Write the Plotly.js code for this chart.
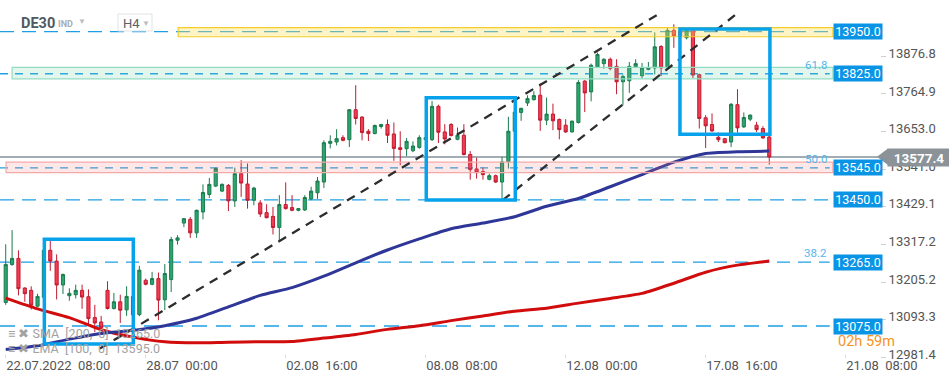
<!DOCTYPE html>
<html><head><meta charset="utf-8">
<script src="https://cdn.plot.ly/plotly-3.0.1.min.js"></script>
<style>html,body{margin:0;padding:0;background:#fff;overflow:hidden}#chart{width:949px;height:381px}</style>
</head><body><div id="chart"></div>
<script>
// ---- OHLC data (H4 candles, DE30) ----
const openP = [13145,13258,13276,13188,13181,13134,13160,13300,13268,13197,13165,13168,13181,13162,13100,13087,13181,13127,13147,13123,13163,13109,13211,13199,13216,13153,13213,13330,13381,13392,13352,13414,13466,13491,13476,13493,13447,13528,13497,13449,13441,13412,13401,13368,13436,13427,13419,13420,13453,13471,13503,13618,13622,13635,13629,13718,13696,13654,13647,13668,13674,13646,13605,13602,13596,13606,13629,13629,13728,13652,13674,13630,13642,13585,13542,13534,13511,13522,13503,13563,13654,13710,13738,13748,13761,13687,13705,13689,13672,13652,13680,13803,13771,13845,13855,13868,13847,13801,13804,13846,13819,13838,13842,13906,13842,13954,13952,13932,13954,13822,13694,13674,13636,13632,13622,13733,13667,13690,13672,13662,13637];
const highP = [13318,13360,13300,13190,13193,13171,13303,13329,13288,13231,13187,13198,13198,13184,13138,13105,13208,13173,13168,13193,13168,13254,13216,13236,13234,13259,13340,13345,13396,13399,13421,13496,13515,13546,13499,13497,13546,13568,13558,13489,13449,13437,13429,13464,13502,13464,13426,13464,13489,13518,13627,13642,13660,13642,13720,13791,13699,13660,13674,13676,13689,13680,13654,13634,13624,13642,13638,13744,13733,13675,13678,13665,13675,13595,13575,13546,13528,13525,13578,13697,13716,13724,13761,13773,13796,13754,13736,13692,13690,13686,13806,13806,13855,13888,13871,13873,13868,13822,13860,13868,13857,13860,13948,13910,13963,13972,13958,13958,13960,13825,13702,13707,13650,13634,13738,13779,13710,13704,13682,13669,13640];
const lowP = [13138,13254,13166,13147,13124,13131,13158,13239,13154,13170,13150,13157,13126,13077,13057,13062,13124,13124,13084,13105,13100,13104,13196,13196,13092,13122,13176,13317,13369,13337,13337,13392,13456,13488,13473,13417,13429,13459,13424,13434,13399,13395,13347,13328,13421,13416,13416,13417,13449,13453,13485,13603,13612,13624,13607,13674,13627,13625,13645,13662,13619,13566,13553,13580,13592,13602,13627,13625,13619,13615,13639,13627,13582,13510,13513,13510,13508,13500,13449,13543,13650,13685,13729,13745,13655,13672,13657,13630,13649,13650,13677,13711,13743,13842,13840,13835,13764,13731,13768,13843,13811,13835,13823,13818,13838,13902,13930,13927,13812,13662,13604,13652,13622,13618,13607,13650,13664,13684,13652,13632,13555];
const closeP = [13258,13276,13186,13171,13137,13163,13300,13268,13197,13228,13172,13181,13161,13097,13084,13070,13127,13147,13122,13163,13108,13241,13199,13216,13152,13231,13332,13337,13394,13352,13419,13472,13496,13543,13496,13447,13528,13500,13449,13485,13408,13397,13368,13436,13424,13419,13424,13457,13476,13506,13620,13624,13632,13627,13718,13692,13650,13647,13671,13674,13642,13603,13600,13624,13610,13635,13635,13728,13651,13631,13641,13642,13585,13540,13531,13525,13522,13503,13563,13654,13711,13722,13751,13760,13687,13705,13685,13659,13652,13684,13799,13768,13850,13882,13868,13841,13801,13817,13847,13855,13842,13842,13905,13842,13954,13937,13938,13954,13821,13692,13670,13655,13629,13620,13734,13664,13695,13702,13659,13634,13577.4];

// ---- Moving averages (read at every 5th candle) ----
const maIdx = [0,5,10,15,20,25,30,35,40,45,50,55,60,65,70,75,80,85,90,95,100,105,110,115,120];
const sma200 = [13158,13126,13100,13064,13042,13028,13025,13027,13028,13029,13039,13050,13065,13076,13091,13105,13119,13128,13143,13157,13172,13202,13235,13256,13268];
const ema100 = [13005,13016,13036,13053,13062,13076,13098,13132,13166,13189,13223,13263,13301,13334,13364,13381,13400,13431,13454,13489,13525,13562,13588,13593,13595];

// ---- Axes ----
const xTickIdx = [0,22,44,66,88,110,132];
const xTickLabels = ['22.07.2022\u00a0 08:00','28.07\u00a0 00:00','02.08\u00a0 16:00','08.08\u00a0 08:00','12.08\u00a0 00:00','17.08\u00a0 16:00','21.08\u00a0 08:00'];
const yTickVals = [13876.8,13764.9,13653.0,13541.0,13429.1,13317.2,13205.2,13093.3,12981.4];

// ---- Drawn levels ----
const levels = [13950,13825,13545,13450,13265,13075];
const levelDash = ['14px,8px','8px,7px','8px,7px','14px,8px','13px,8px','15px,9px'];
const fibLevels = [13825,13545,13265];
const fibLabels = ['61.8','50.0','38.2'];
const currentPrice = 13577.4;

const bandLow = [13935,13810,13531];
const bandHigh = [13962,13844,13562];
const bandStart = [27.1,1.0,0.05];
const bandFill = ['rgba(255,224,90,0.35)','rgba(110,210,170,0.2)','rgba(245,120,120,0.18)'];
const bandLine = ['#f4cd2a','#93dcc2','#f4a9a9'];

const boxX0 = [6.07,66.09,105.96];
const boxX1 = [20.05,80.08,120.1];
const boxY0 = [13021.5,13449.6,13644.9];
const boxY1 = [13332.8,13753.7,13958.0];

const trendX0 = [14.8,78.1];
const trendY0 = [13008,13449];
const trendX1 = [102.3,114.6];
const trendY1 = [13999,13999];

// ---- build ----
const idx = openP.map((_, i) => i);
const PW = 880, PH = 381;
const px2paperX = p => p / PW;
const px2paperY = p => 1 - p / PH;

const traces = [
  {type:'scatter', mode:'lines', x:maIdx, y:sma200, line:{color:'#d10c0c', width:3, shape:'spline', smoothing:0.6}, hoverinfo:'skip', showlegend:false},
  {type:'scatter', mode:'lines', x:maIdx, y:ema100, line:{color:'#2e3697', width:3, shape:'spline', smoothing:0.6}, hoverinfo:'skip', showlegend:false},
  {type:'candlestick', x:idx, open:openP, high:highP, low:lowP, close:closeP,
   increasing:{line:{color:'#1b7a4d', width:1}, fillcolor:'#2aa66f'},
   decreasing:{line:{color:'#c01a30', width:1}, fillcolor:'#f23c52'},
   whiskerwidth:0, hoverinfo:'skip', showlegend:false}
];

const shapes = [];
levels.forEach((lv, k) => {
  shapes.push({type:'line', xref:'x', yref:'y', x0:-0.9, x1:129.5, y0:lv, y1:lv,
    line:{color:'#1e9fe6', width:1.3, dash:levelDash[k]}, layer:'below'});
});
shapes.push({type:'line', xref:'paper', yref:'y', x0:0, x1:1, y0:currentPrice, y1:currentPrice,
  line:{color:'#86919a', width:1.5}, layer:'below'});
bandLow.forEach((lo, k) => {
  shapes.push({type:'rect', xref:'x', yref:'y', x0:bandStart[k], x1:130, y0:lo, y1:bandHigh[k],
    fillcolor:bandFill[k], line:{color:bandLine[k], width:1.2}, layer:'above'});
});
trendX0.forEach((x0, k) => {
  shapes.push({type:'line', xref:'x', yref:'y', x0:x0, y0:trendY0[k], x1:trendX1[k], y1:trendY1[k],
    line:{color:'#2d2d2d', width:2.3, dash:'9px,7px'}, layer:'above'});
});
boxX0.forEach((x0, k) => {
  shapes.push({type:'rect', xref:'x', yref:'y', x0:x0, x1:boxX1[k], y0:boxY0[k], y1:boxY1[k],
    line:{color:'#07a2ec', width:3.5}, fillcolor:'rgba(0,0,0,0)', layer:'above'});
});
// current price tag arrow
shapes.push({type:'path', xref:'paper', yref:'paper',
  path:'M '+px2paperX(877)+' '+px2paperY(156.8)+' L '+px2paperX(888)+' '+px2paperY(148.5)+' L '+px2paperX(888)+' '+px2paperY(165)+' Z',
  fillcolor:'#8b9399', line:{width:0}, layer:'above'});
// H4 selector box
shapes.push({type:'rect', xref:'paper', yref:'paper', x0:px2paperX(118), x1:px2paperX(152), y0:px2paperY(31), y1:px2paperY(14),
  fillcolor:'rgba(255,255,255,0.9)', line:{color:'#dfe2e5', width:1}, layer:'above'});

const annotations = [];
levels.forEach(lv => {
  annotations.push({xref:'paper', yref:'y', x:px2paperX(833), y:lv, xanchor:'left', yanchor:'middle',
    text:lv.toFixed(1), showarrow:false, bgcolor:'#0a94e6', font:{color:'#ffffff', size:12.5},
    width:46, height:13, borderpad:1, align:'center'});
});
fibLevels.forEach((lv, k) => {
  annotations.push({xref:'paper', yref:'y', x:px2paperX(829), y:lv, xanchor:'right', yanchor:'middle', yshift:9,
    text:fibLabels[k], showarrow:false, font:{color:'#55b6ee', size:11.5}});
});
annotations.push({xref:'paper', yref:'y', x:px2paperX(887), y:currentPrice, xanchor:'left', yanchor:'middle',
  text:'<b>'+currentPrice.toFixed(1)+'</b>', showarrow:false, bgcolor:'#8b9399', font:{color:'#ffffff', size:13.5},
  width:60, height:15, borderpad:1, align:'center'});
annotations.push({xref:'paper', yref:'paper', x:px2paperX(836), y:px2paperY(341), xanchor:'left', yanchor:'middle',
  text:'02h 59m', showarrow:false, font:{color:'#f7941d', size:14.5}});
annotations.push({xref:'paper', yref:'paper', x:px2paperX(6), y:px2paperY(333), xanchor:'left', yanchor:'middle',
  text:'\u2261 \u2716 SMA  [200,  0]  13265.0', showarrow:false, font:{color:'#a2a2a2', size:12.5}});
annotations.push({xref:'paper', yref:'paper', x:px2paperX(6), y:px2paperY(348), xanchor:'left', yanchor:'middle',
  text:'\u2261 \u2716 EMA  [100,  0]  13595.0', showarrow:false, font:{color:'#a2a2a2', size:12.5}});
annotations.push({xref:'paper', yref:'paper', x:px2paperX(19), y:px2paperY(23), xanchor:'left', yanchor:'middle',
  text:'<b>DE30</b>', showarrow:false, font:{color:'#4f5962', size:14.5}});
annotations.push({xref:'paper', yref:'paper', x:px2paperX(56), y:px2paperY(24), xanchor:'left', yanchor:'middle',
  text:'<b>IND</b>', showarrow:false, font:{color:'#a7aeb4', size:9}});
annotations.push({xref:'paper', yref:'paper', x:px2paperX(76), y:px2paperY(22), xanchor:'left', yanchor:'middle',
  text:'\u25bc', showarrow:false, font:{color:'#b9bec2', size:8}});
annotations.push({xref:'paper', yref:'paper', x:px2paperX(121), y:px2paperY(23), xanchor:'left', yanchor:'middle',
  text:'H4', showarrow:false, font:{color:'#5b6167', size:13}});
annotations.push({xref:'paper', yref:'paper', x:px2paperX(140), y:px2paperY(23), xanchor:'left', yanchor:'middle',
  text:'\u25bc', showarrow:false, font:{color:'#b9bec2', size:8}});

const layout = {
  width:949, height:381,
  margin:{l:0, r:69, t:0, b:0, pad:0},
  paper_bgcolor:'#ffffff', plot_bgcolor:'#ffffff',
  font:{family:'Roboto, "Open Sans", sans-serif', color:'#555'},
  showlegend:false,
  xaxis:{range:[-0.9,137.4], anchor:'free', position:0.072, tickmode:'array', tickvals:xTickIdx, ticktext:xTickLabels,
    ticks:'outside', ticklen:3, tickcolor:'#dadada', ticklabelposition:'outside right',
    showgrid:false, zeroline:false, showline:false, tickfont:{size:13, color:'#555'},
    fixedrange:true, rangeslider:{visible:false}},
  yaxis:{side:'right', range:[12911.5,14044.2], tickmode:'array', tickvals:yTickVals, ticktext:yTickVals.map(v => v.toFixed(1)),
    ticks:'outside', ticklen:5, tickcolor:'#d0d0d0', showgrid:false, zeroline:false, showline:false,
    ticklabelshift:-3, tickfont:{size:13, color:'#555'}, fixedrange:true},
  shapes:shapes, annotations:annotations
};
Plotly.newPlot('chart', traces, layout, {staticPlot:true, displayModeBar:false});
</script></body></html>
